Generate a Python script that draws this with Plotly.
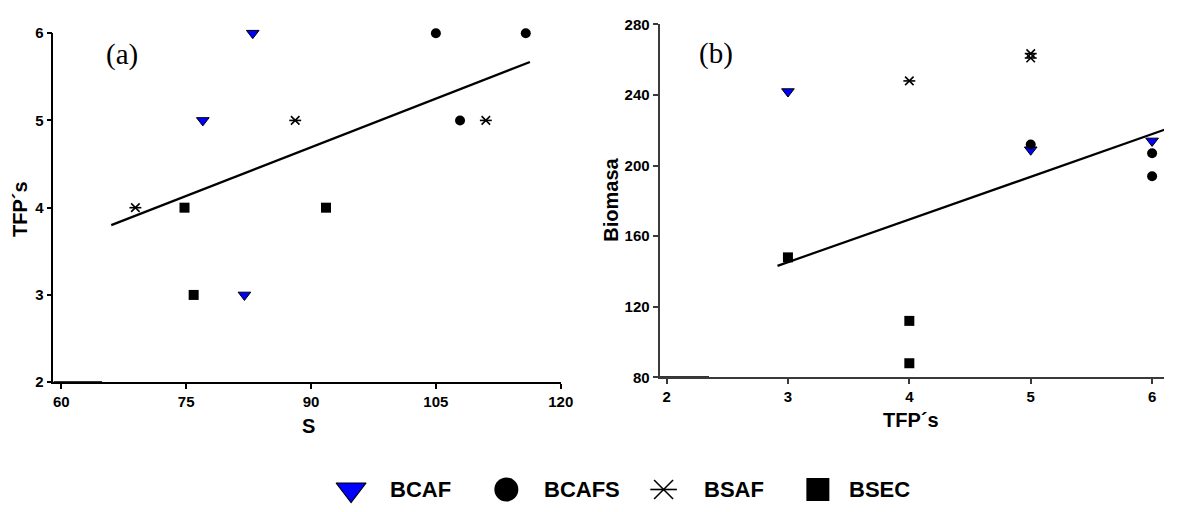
import plotly.graph_objects as go

W, H = 1177, 512

series_names = ["BCAF", "BCAFS", "BSAF", "BSEC"]

# ---------- Panel (a): TFP´s vs S ----------
a_bcaf_x = [83.0, 77.0, 82.0]
a_bcaf_y = [6, 5, 3]
a_bcafs_x = [105.0, 115.8, 107.9]
a_bcafs_y = [6, 6, 5]
a_bsaf_x = [68.9, 88.1, 111.0]
a_bsaf_y = [4, 5, 5]
a_bsec_x = [74.8, 75.9, 91.8]
a_bsec_y = [4, 3, 4]
a_fit_x = [66.0, 116.3]
a_fit_y = [3.80, 5.67]
a_base_x = [59.05, 64.9]
a_base_y = [2, 2]
a_xticks = [60, 75, 90, 105, 120]
a_yticks = [2, 3, 4, 5, 6]

# ---------- Panel (b): Biomasa vs TFP´s ----------
b_bcaf_x = [3, 5, 6]
b_bcaf_y = [242, 209, 214]
b_bcafs_x = [5, 6, 6]
b_bcafs_y = [212, 207, 194]
b_bsaf_x = [4, 5, 5]
b_bsaf_y = [248, 263.5, 261]
b_bsec_x = [3, 4, 4]
b_bsec_y = [148, 112, 88]
b_fit_x = [2.914, 6.2]
b_fit_y = [143.2, 222.7]
b_base_x = [1.943, 2.35]
b_base_y = [80, 80]
b_xticks = [2, 3, 4, 5, 6]
b_yticks = [80, 120, 160, 200, 240, 280]

SANS = "Liberation Sans, Arial, sans-serif"
SERIF = "Liberation Serif, Times New Roman, serif"
BLUE = "#0000FF"

fig = go.Figure()


def add_panel(xa, ya, bcaf, bcafs, bsaf, bsec, fit, base):
    # regression line
    fig.add_trace(go.Scatter(x=fit[0], y=fit[1], mode="lines",
                             line=dict(color="black", width=2.2),
                             xaxis=xa, yaxis=ya, showlegend=False, hoverinfo="skip"))
    # short baseline segment on the axis
    fig.add_trace(go.Scatter(x=base[0], y=base[1], mode="lines",
                             line=dict(color="#333333", width=2.5),
                             xaxis=xa, yaxis=ya, showlegend=False, hoverinfo="skip",
                             cliponaxis=False))
    fig.add_trace(go.Scatter(x=bcaf[0], y=bcaf[1], mode="markers", name=series_names[0],
                             marker=dict(symbol="triangle-down", size=11, color=BLUE,
                                         line=dict(color="black", width=1)),
                             xaxis=xa, yaxis=ya, showlegend=False, cliponaxis=False))
    fig.add_trace(go.Scatter(x=bcafs[0], y=bcafs[1], mode="markers", name=series_names[1],
                             marker=dict(symbol="circle", size=10, color="black",
                                         line=dict(color="black", width=0)),
                             xaxis=xa, yaxis=ya, showlegend=False, cliponaxis=False))
    fig.add_trace(go.Scatter(x=bsaf[0], y=bsaf[1], mode="markers", name=series_names[2],
                             marker=dict(symbol="x-thin-open", size=8.5, color="black",
                                         line=dict(color="black", width=1.6)),
                             xaxis=xa, yaxis=ya, showlegend=False, cliponaxis=False))
    fig.add_trace(go.Scatter(x=bsaf[0], y=bsaf[1], mode="markers", name=series_names[2],
                             marker=dict(symbol="line-ew-open", size=8.5, color="black",
                                         line=dict(color="black", width=1.6)),
                             xaxis=xa, yaxis=ya, showlegend=False, cliponaxis=False,
                             hoverinfo="skip"))
    fig.add_trace(go.Scatter(x=bsec[0], y=bsec[1], mode="markers", name=series_names[3],
                             marker=dict(symbol="square", size=10, color="black",
                                         line=dict(color="black", width=0)),
                             xaxis=xa, yaxis=ya, showlegend=False, cliponaxis=False))


add_panel("x", "y", (a_bcaf_x, a_bcaf_y), (a_bcafs_x, a_bcafs_y), (a_bsaf_x, a_bsaf_y),
          (a_bsec_x, a_bsec_y), (a_fit_x, a_fit_y), (a_base_x, a_base_y))
add_panel("x2", "y2", (b_bcaf_x, b_bcaf_y), (b_bcafs_x, b_bcafs_y), (b_bsaf_x, b_bsaf_y),
          (b_bsec_x, b_bsec_y), (b_fit_x, b_fit_y), (b_base_x, b_base_y))

# ---------- custom legend (own pixel-like axis at the bottom) ----------
leg_y = 15
leg_marker_x = [355, 512, 671, 827]
leg_text_x = [392, 548, 710, 856]
leg_styles = [
    dict(symbol="triangle-down", size=26, color=BLUE, line=dict(color="black", width=1.2)),
    dict(symbol="circle", size=24, color="black", line=dict(width=0)),
    dict(symbol="x-thin-open", size=19, color="black", line=dict(color="black", width=1.6)),
    dict(symbol="square", size=23, color="black", line=dict(width=0)),
]
for i, name in enumerate(series_names):
    fig.add_trace(go.Scatter(x=[leg_marker_x[i]], y=[leg_y], mode="markers",
                             marker=leg_styles[i], xaxis="x3", yaxis="y3",
                             showlegend=False, hoverinfo="skip", cliponaxis=False))
    if name == "BSAF":
        fig.add_trace(go.Scatter(x=[leg_marker_x[i]], y=[leg_y], mode="markers",
                                 marker=dict(symbol="line-ew-open", size=19, color="black",
                                             line=dict(color="black", width=1.6)),
                                 xaxis="x3", yaxis="y3",
                                 showlegend=False, hoverinfo="skip", cliponaxis=False))

annotations = []
for i, name in enumerate(series_names):
    annotations.append(dict(x=leg_text_x[i], y=leg_y, xref="x3", yref="y3",
                            text="<b>%s</b>" % name, showarrow=False,
                            xanchor="left", yanchor="middle",
                            font=dict(family=SANS, size=22, color="black")))


def paper_x(px):
    return px / W


def paper_y(py):
    return 1 - py / H


title_font = dict(family=SANS, size=20, color="black")
annotations += [
    dict(x=paper_x(312), y=paper_y(431), xref="paper", yref="paper", text="<b>S</b>",
         showarrow=False, xanchor="center", yanchor="middle", font=title_font),
    dict(x=paper_x(20), y=paper_y(207), xref="paper", yref="paper", text="<b>TFP´s</b>",
         showarrow=False, xanchor="center", yanchor="middle", textangle=-90, font=title_font),
    dict(x=paper_x(921), y=paper_y(425), xref="paper", yref="paper", text="<b>TFP´s</b>",
         showarrow=False, xanchor="center", yanchor="middle", font=title_font),
    dict(x=paper_x(618), y=paper_y(197), xref="paper", yref="paper", text="<b>Biomasa</b>",
         showarrow=False, xanchor="center", yanchor="middle", textangle=-90, font=title_font),
    dict(x=paper_x(123), y=paper_y(47), xref="paper", yref="paper", text="(a)",
         showarrow=False, xanchor="center", yanchor="middle",
         font=dict(family=SERIF, size=29, color="black")),
    dict(x=paper_x(724), y=paper_y(46), xref="paper", yref="paper", text="(b)",
         showarrow=False, xanchor="center", yanchor="middle",
         font=dict(family=SERIF, size=29, color="black")),
]

tickfont = dict(family=SANS, size=15, color="black")


def axis(domain, rng, tickvals, lc, lw):
    return dict(domain=domain, range=rng, tickvals=tickvals,
                ticktext=["<b>%s</b>" % v for v in tickvals],
                showline=True, linecolor=lc, linewidth=lw, mirror=False,
                ticks="outside", ticklen=5, tickwidth=1.5, tickcolor=lc,
                showgrid=False, zeroline=False, tickfont=tickfont, fixedrange=True)


fig.update_layout(
    width=W, height=H,
    margin=dict(l=0, r=0, t=0, b=0),
    paper_bgcolor="white", plot_bgcolor="white",
    showlegend=False,
    xaxis=dict(axis([paper_x(54), paper_x(567)], [59.05, 120], a_xticks, "black", 1.5),
               anchor="y"),
    yaxis=dict(axis([paper_y(386), paper_y(25)], [2, 6], a_yticks, "black", 1.5),
               anchor="x"),
    xaxis2=dict(axis([paper_x(667), 1.0], [1.943, 6.098], b_xticks, "#3a3a3a", 2),
                anchor="y2"),
    yaxis2=dict(axis([paper_y(381), paper_y(16)], [80, 280], b_yticks, "#3a3a3a", 2),
                anchor="x2"),
    xaxis3=dict(domain=[0, 1], range=[0, W], visible=False, fixedrange=True, anchor="y3"),
    yaxis3=dict(domain=[0, 30 / H], range=[0, 30], visible=False, fixedrange=True,
                anchor="x3"),
    annotations=annotations,
)

fig.write_html(
    "out.html",
    config={"displayModeBar": False},
    post_script="document.body.style.margin='0px';document.body.style.overflow='hidden';",
)
